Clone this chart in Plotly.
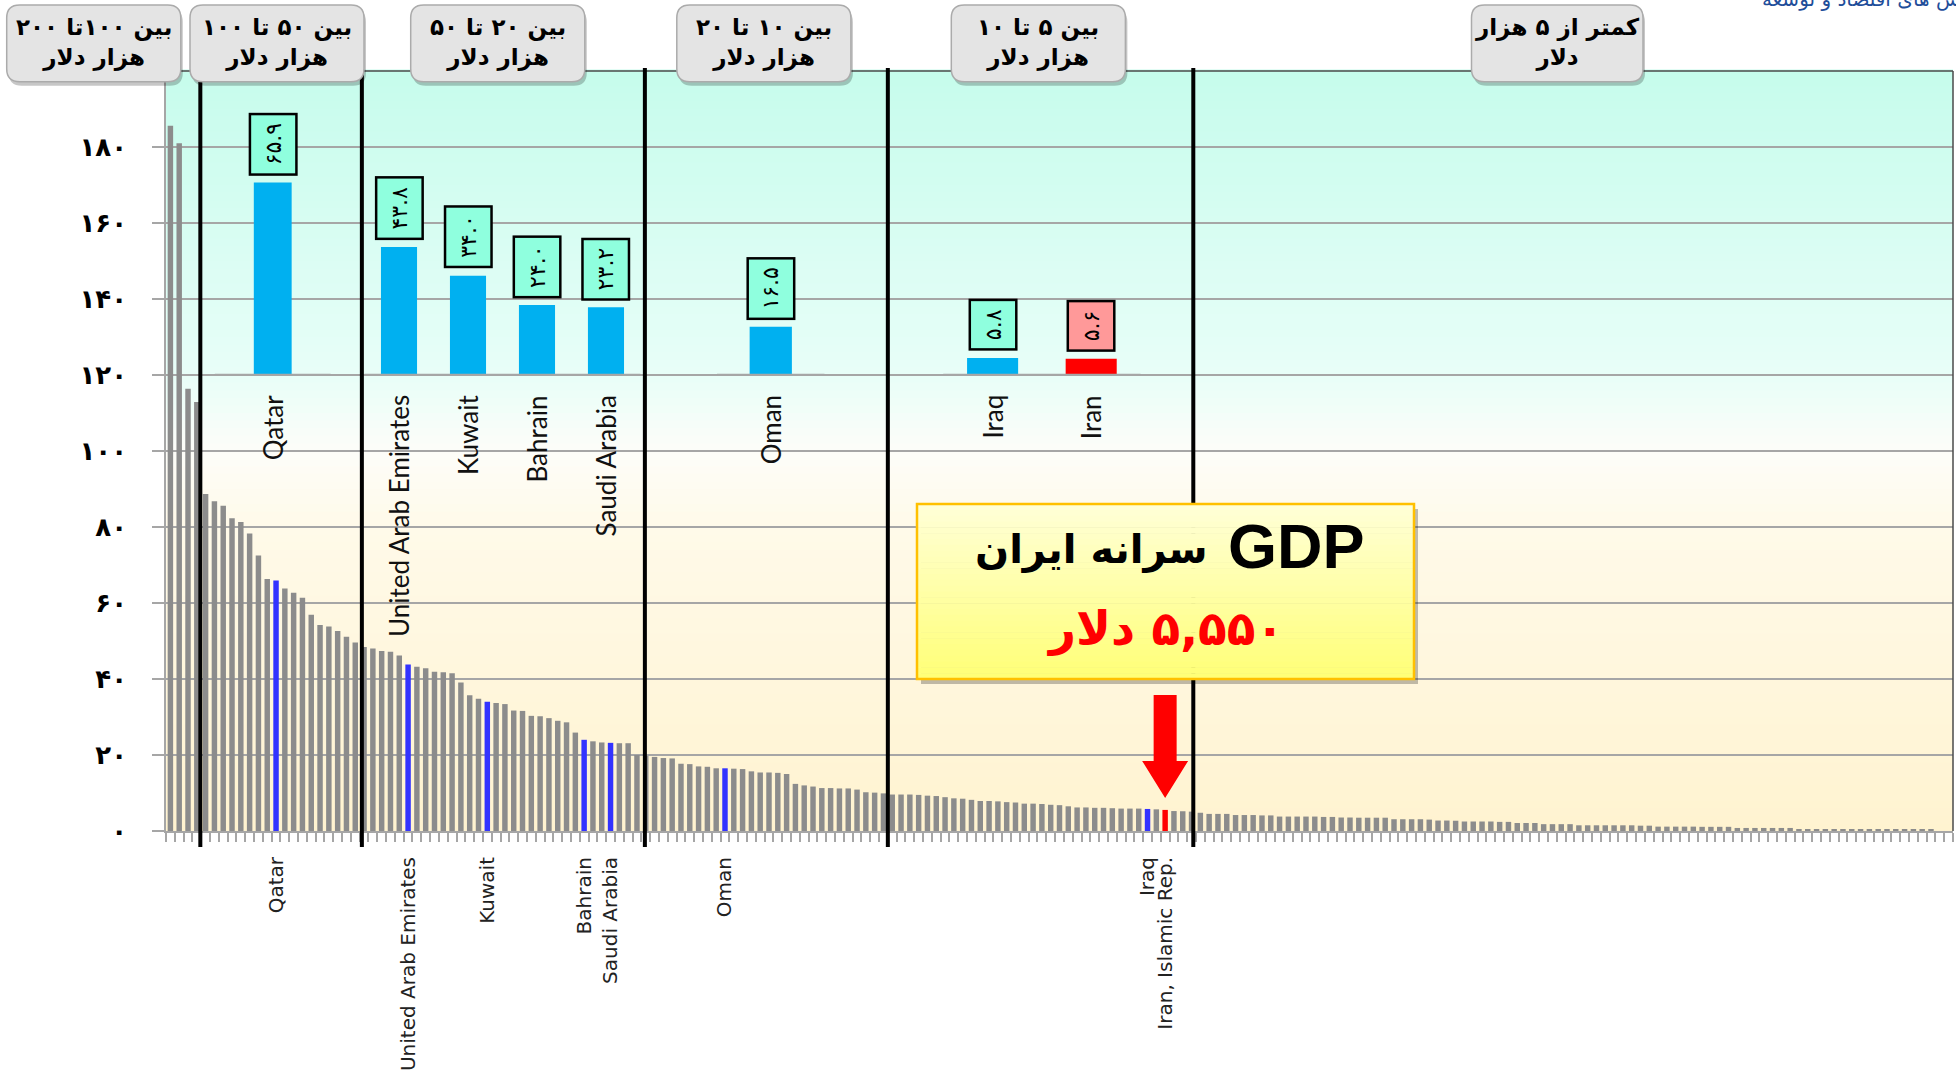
import plotly.graph_objects as go

# ---------------- DATA ----------------
# GDP per capita (thousand US$), countries sorted descending (one bar per country)
gdp = [
    185.6, 181.0, 116.4, 112.9,
    88.7, 86.8, 85.6, 82.3, 81.3, 78.3, 72.5, 66.3, 65.9, 63.8, 62.7, 61.4, 56.9, 54.2, 53.8, 52.6, 51.1, 49.6,
    48.4, 48.0, 47.4, 47.2, 46.2, 43.8, 43.2, 42.8, 41.9, 41.8, 41.5, 39.1, 35.7, 34.8, 34.0, 33.7, 33.4,
    31.7, 31.6, 30.3, 30.2, 29.7, 29.0, 28.6, 25.9, 24.0, 23.6, 23.3, 23.2, 23.1, 23.1, 20.0,
    19.8, 19.5, 19.2, 19.1, 17.7, 17.6, 17.0, 16.9, 16.5, 16.5, 16.4, 16.3, 15.7, 15.4, 15.4, 15.3, 15.0,
    12.4, 12.0, 11.7, 11.3, 11.3, 11.2, 11.2, 10.9, 10.2, 10.1, 9.9,
    9.6, 9.6, 9.6, 9.5, 9.3, 9.2, 8.9, 8.6, 8.5, 8.2, 7.9, 7.9, 7.8, 7.6, 7.5, 7.2, 7.2, 7.1, 6.9, 6.8,
    6.5, 6.2, 6.2, 6.1, 6.1, 6.0, 5.9, 5.9, 5.9, 5.8, 5.7, 5.55, 5.25, 5.2, 5.1,
    4.8, 4.5, 4.5, 4.5, 4.2, 4.2, 4.2, 4.1, 4.1, 3.8, 3.8, 3.8, 3.8, 3.8, 3.7, 3.7,
    3.55, 3.55, 3.5, 3.5, 3.5, 3.5, 3.1, 3.1, 3.1, 3.1, 3.0, 2.75, 2.75, 2.7,
    2.5, 2.5, 2.5, 2.5, 2.4, 2.4, 2.1, 2.1, 2.1, 1.8, 1.8, 1.8, 1.8,
    1.5, 1.5, 1.5, 1.5, 1.5, 1.5, 1.5, 1.4, 1.4, 1.15, 1.15, 1.15, 1.15, 1.15, 1.1, 1.1, 1.1, 1.1,
    0.8, 0.8, 0.8, 0.8, 0.8, 0.8, 0.8, 0.5, 0.5, 0.5, 0.5, 0.5, 0.5, 0.5, 0.5, 0.5, 0.5, 0.5, 0.5,
    0.5, 0.45, 0.45, 0.45,
]
n_slots = 203  # category slots on the axis (last ones without data)

# labelled countries on the x axis and their positions in the sorted list
label_names = ["Qatar", "United Arab Emirates", "Kuwait", "Bahrain", "Saudi Arabia", "Oman",
               "Iraq", "Iran, Islamic Rep."]
label_index = [12, 27, 36, 47, 50, 63, 111, 113]
iran_index = 113

# inset: regional comparison
inset_names = ["Qatar", "United Arab Emirates", "Kuwait", "Bahrain", "Saudi Arabia", "Oman", "Iraq", "Iran"]
inset_values = [65.9, 43.8, 34.0, 24.0, 23.2, 16.5, 5.8, 5.6]
inset_group = [1, 2, 2, 2, 2, 3, 4, 4]

# income bands (header boxes)
band_titles = [("بین ۱۰۰تا ۲۰۰", "هزار دلار"), ("بین ۵۰ تا ۱۰۰", "هزار دلار"),
               ("بین ۲۰ تا ۵۰", "هزار دلار"), ("بین ۱۰ تا ۲۰", "هزار دلار"),
               ("بین ۵ تا ۱۰", "هزار دلار"), ("کمتر از ۵ هزار", "دلار")]

y_ticks = [0, 20, 40, 60, 80, 100, 120, 140, 160, 180]

callout_gdp = "GDP"
callout_fa = "سرانه ایران"
callout_line2 = "۵,۵۵۰ دلار"
source_text = "ش های اقتصاد و توسعه"

# ---------------- HELPERS / LAYOUT CONSTANTS ----------------
FA = str.maketrans("0123456789", "۰۱۲۳۴۵۶۷۸۹")
def fa(s):
    return str(s).translate(FA)

def rtl(s):
    return "\u202b" + s + "\u202c"

W, H = 1956, 1071
L, T, R, B = 166, 71, 1953, 831
PW, PH = R - L, B - T

def px(x):
    return (x - L) / PW

def py(y):
    return (B - y) / PH

def rrect(x0, y0, x1, y1, r):
    return (f"M {px(x0+r)},{py(y0)} L {px(x1-r)},{py(y0)} Q {px(x1)},{py(y0)} {px(x1)},{py(y0+r)} "
            f"L {px(x1)},{py(y1-r)} Q {px(x1)},{py(y1)} {px(x1-r)},{py(y1)} "
            f"L {px(x0+r)},{py(y1)} Q {px(x0)},{py(y1)} {px(x0)},{py(y1-r)} "
            f"L {px(x0)},{py(y0+r)} Q {px(x0)},{py(y0)} {px(x0+r)},{py(y0)} Z")

sep_x = [3.4, 21.75, 53.9, 81.5, 116.2]
inset_slots = {1: (5.05, 18.2), 2: (22.05, 53.4), 3: (62.1, 74.3), 4: (87.8, 110.2)}
inset_bar_w = {1: 4.3, 2: 4.1, 3: 4.8, 4: 5.8}
header_px = [(6.7, 5, 180.8, 81.7), (190, 5, 364, 81.7), (410.7, 5, 584.8, 81.7),
             (676.8, 5, 850.9, 81.7), (951.3, 5, 1125.4, 81.7), (1471.5, 5, 1643, 81.7)]
callout_px = (917, 504, 1414, 679)

GRAY = "#8C8C8C"
BLUE = "#3333FF"
RED = "#FF0000"
INSET_BLUE = "#00B0F0"
GRID = "#A6A6A6"
FONT_FA = "DejaVu Sans"

# ---------------- FIGURE ----------------
N = len(gdp)
colors = [GRAY] * N
for i in label_index:
    colors[i] = BLUE
colors[iran_index] = RED

fig = go.Figure()
fig.add_trace(go.Bar(x=list(range(N)), y=gdp, marker=dict(color=colors, line=dict(width=0)),
                     width=0.62, hoverinfo="y", showlegend=False))

# inset bar positions derived from the slot of each band
inset_x, inset_w = [], []
for g, (s, e) in inset_slots.items():
    members = [k for k, gg in enumerate(inset_group) if gg == g]
    step = (e - s) / len(members)
    for j, _ in enumerate(members):
        inset_x.append(s + (j + 0.5) * step)
        inset_w.append(inset_bar_w[g])
inset_colors = [INSET_BLUE] * (len(inset_values) - 1) + [RED]
fig.add_trace(go.Bar(x=inset_x, y=inset_values, width=inset_w, xaxis="x", yaxis="y2",
                     marker=dict(color=inset_colors, line=dict(width=0)),
                     hoverinfo="y", showlegend=False))

shapes = []
# background gradient (mint top -> white -> cream bottom)
stops = [(0, (255, 243, 208)), (80, (255, 250, 233)), (100, (253, 253, 249)),
         (120, (232, 254, 248)), (200, (198, 252, 236))]
def grad(v):
    for (a, ca), (b, cb) in zip(stops[:-1], stops[1:]):
        if a <= v <= b:
            t = (v - a) / (b - a)
            return "rgb(%d,%d,%d)" % tuple(round(ca[k] + (cb[k] - ca[k]) * t) for k in range(3))
    return "rgb(%d,%d,%d)" % stops[-1][1]
nb = 100
for k in range(nb):
    shapes.append(dict(type="rect", xref="paper", yref="paper", x0=0, x1=1, y0=k / nb, y1=(k + 1) / nb + 0.002,
                       fillcolor=grad(200 * (k + 0.5) / nb), line=dict(width=0), layer="below"))

# plot border (top & right)
shapes.append(dict(type="line", xref="paper", yref="paper", x0=0, x1=1, y0=1, y1=1,
                   line=dict(color="#4A4A4A", width=1.5), layer="above"))
shapes.append(dict(type="line", xref="paper", yref="paper", x0=1, x1=1, y0=0, y1=1,
                   line=dict(color="#4A4A4A", width=1.5), layer="above"))

# inset baselines
for g, (s, e) in inset_slots.items():
    shapes.append(dict(type="line", xref="x", yref="y2", x0=s, x1=e, y0=0, y1=0,
                       line=dict(color=GRID, width=2.5), layer="above"))

# band separators
for sx in sep_x:
    shapes.append(dict(type="line", xref="x", yref="paper", x0=sx, x1=sx, y0=py(847), y1=py(68),
                       line=dict(color="black", width=4), layer="above"))

# header boxes
for (x0, y0, x1, y1) in header_px:
    shapes.append(dict(type="path", xref="paper", yref="paper", path=rrect(x0 + 2, y0 + 4, x1 + 2, y1 + 4, 13),
                       fillcolor="rgba(0,0,0,0.22)", line=dict(width=0), layer="above"))
    shapes.append(dict(type="path", xref="paper", yref="paper", path=rrect(x0, y0, x1, y1, 13),
                       fillcolor="#E4E4E4", line=dict(color="#ABABAB", width=1.5), layer="above"))

# callout box with gradient
cx0, cy0, cx1, cy1 = callout_px
shapes.append(dict(type="rect", xref="paper", yref="paper", x0=px(cx0 + 4), x1=px(cx1 + 4),
                   y0=py(cy1 + 5), y1=py(cy0 + 5), fillcolor="rgba(0,0,0,0.25)", line=dict(width=0), layer="above"))
nc = 30
for k in range(nc):
    t = k / (nc - 1)
    c = (255, 255, round(214 - (214 - 120) * t))
    shapes.append(dict(type="rect", xref="paper", yref="paper", x0=px(cx0), x1=px(cx1),
                       y0=py(cy0 + (cy1 - cy0) * (k + 1) / nc + 0.5), y1=py(cy0 + (cy1 - cy0) * k / nc),
                       fillcolor="rgb(%d,%d,%d)" % c, line=dict(width=0), layer="above"))
shapes.append(dict(type="rect", xref="paper", yref="paper", x0=px(cx0), x1=px(cx1), y0=py(cy1), y1=py(cy0),
                   fillcolor="rgba(0,0,0,0)", line=dict(color="#FFC000", width=2.5), layer="above"))

# red arrow pointing at Iran's bar
shapes.append(dict(type="path", xref="x", yref="y", xsizemode="pixel", ysizemode="pixel",
                   xanchor=iran_index, yanchor=gdp[iran_index],
                   path="M -11.5,115 L 11.5,115 L 11.5,49 L 23,49 L 0,12 L -23,49 L -11.5,49 Z",
                   fillcolor=RED, line=dict(width=0), layer="above"))

annotations = []
# header texts
for (l1, l2), (x0, y0, x1, y1) in zip(band_titles, header_px):
    annotations.append(dict(xref="paper", yref="paper", x=px((x0 + x1) / 2), y=py((y0 + y1) / 2 - 1),
                            xanchor="center", yanchor="middle",
                            text=rtl(l1) + "<br>" + rtl(l2), showarrow=False, align="center",
                            font=dict(family=FONT_FA, size=23, color="black", weight="bold")))

# inset value boxes and names
for k in range(len(inset_values)):
    annotations.append(dict(xref="x", yref="y2", x=inset_x[k], y=inset_values[k], yanchor="bottom",
                            xanchor="center", yshift=7, text=fa(inset_values[k]), textangle=-90,
                            showarrow=False, bgcolor="#FF9999" if k == len(inset_values) - 1 else "#8FFFDE",
                            bordercolor="black", borderwidth=2.5, borderpad=8, height=28,
                            font=dict(family=FONT_FA, size=22, color="black")))
    annotations.append(dict(xref="x", yref="y2", x=inset_x[k], y=0, yanchor="top", xanchor="center",
                            yshift=-18, text=inset_names[k], textangle=-90, showarrow=False,
                            font=dict(family="Lato", size=26, color="#111111")))

# callout text
ccx = (cx0 + cx1) / 2
annotations.append(dict(xref="paper", yref="paper", x=px(1296), y=py(546), xanchor="center", yanchor="middle",
                        showarrow=False, text=callout_gdp,
                        font=dict(family="Liberation Sans", size=63, color="black", weight="bold")))
annotations.append(dict(xref="paper", yref="paper", x=px(1091), y=py(549), xanchor="center", yanchor="middle",
                        showarrow=False, text=rtl(callout_fa),
                        font=dict(family=FONT_FA, size=40, color="black", weight="bold")))
annotations.append(dict(xref="paper", yref="paper", x=px(ccx), y=py(628), xanchor="center", yanchor="middle",
                        showarrow=False, text=rtl(callout_line2),
                        font=dict(family=FONT_FA, size=47, color=RED, weight="bold")))
# source text (cut at top/right of page)
annotations.append(dict(xref="paper", yref="paper", x=px(1962), y=py(-1), xanchor="right", yanchor="middle",
                        showarrow=False, text=rtl(source_text),
                        font=dict(family=FONT_FA, size=20, color="#1F4E9A")))

fig.update_layout(
    width=W, height=H,
    margin=dict(l=L, r=W - R, t=T, b=H - B, autoexpand=False),
    paper_bgcolor="white", plot_bgcolor="rgba(0,0,0,0)",
    bargap=0.38, showlegend=False,
    xaxis=dict(range=[-0.5, n_slots - 0.5], showgrid=False, zeroline=False,
               tickmode="array", tickvals=label_index, ticktext=label_names, tickangle=-90,
               ticks="", ticklabelstandoff=16,
               tickfont=dict(family="DejaVu Sans", size=20, color="#222222"),
               minor=dict(tickmode="linear", tick0=-0.5, dtick=1, ticks="outside", ticklen=9,
                          tickcolor=GRID, tickwidth=1.5, showgrid=False),
               showline=True, linecolor=GRID, linewidth=2),
    yaxis=dict(range=[0, 200], tickmode="array", tickvals=y_ticks, ticktext=[fa(v) for v in y_ticks],
               showgrid=True, gridcolor=GRID, gridwidth=1.5, zeroline=False,
               ticks="outside", ticklen=12, tickcolor=GRID, tickwidth=1.5,
               showline=True, linecolor=GRID, linewidth=1.5, ticklabelstandoff=20,
               tickfont=dict(family=FONT_FA, size=26, color="black", weight="bold")),
    yaxis2=dict(domain=[py(375), 1], range=[0, (375 - T) / 2.92], anchor="x", visible=False,
                showgrid=False, zeroline=False),
    shapes=shapes, annotations=annotations,
)

fig.write_html("out.html", config={"displayModeBar": False},
               post_script="document.body.style.margin='0';")
